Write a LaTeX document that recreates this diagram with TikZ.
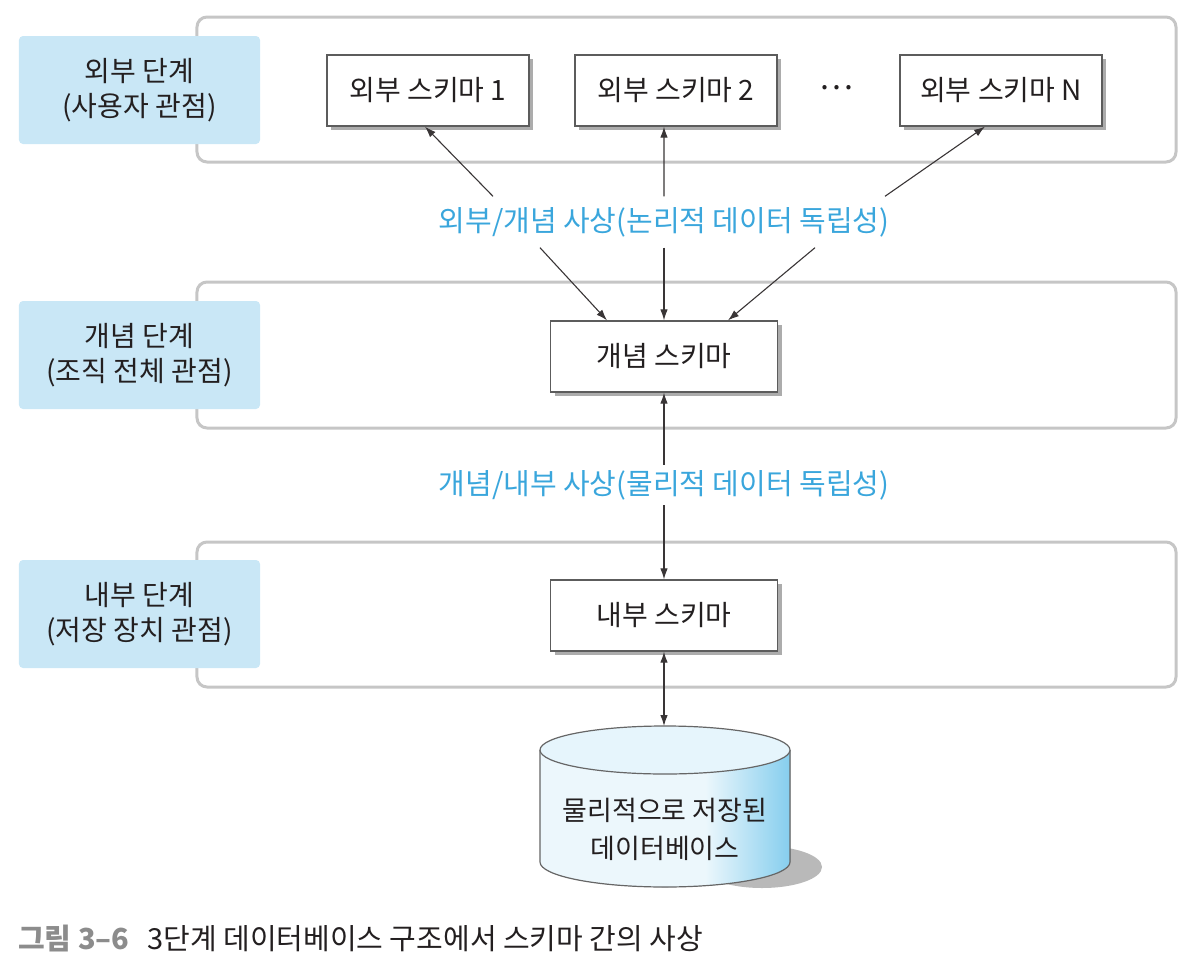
\documentclass[tikz,border=0pt]{standalone}
\usepackage{fontspec}
\setmainfont{Noto Sans CJK KR}
\usetikzlibrary{shapes,arrows.meta,shadows}
\definecolor{levelblue}{HTML}{C9E7F6}
\definecolor{mapblue}{HTML}{3AA6DC}
\definecolor{framegray}{HTML}{C6C6C6}
\definecolor{boxgray}{HTML}{5C5C5C}
\definecolor{inkdark}{HTML}{231F20}
\definecolor{capgray}{HTML}{8C8C8C}
\definecolor{dbpale}{HTML}{ECF7FC}
\definecolor{dbdeep}{HTML}{86CEEE}
\definecolor{dblid}{HTML}{E6F5FC}
\pgfdeclarehorizontalshading{dbside}{100bp}{color(0bp)=(dbpale); color(25bp)=(dbpale); color(58bp)=(dbpale); color(75bp)=(dbdeep); color(100bp)=(dbdeep)}
\tikzstyle{frame} = [draw=framegray, line width=3bp, rounded corners=10bp, inner sep=0pt]
\tikzstyle{level} = [fill=levelblue, rounded corners=4bp, minimum width=241bp, minimum height=108bp, align=center, inner sep=0pt, text=inkdark, font=\fontsize{28bp}{35bp}\selectfont]
\tikzstyle{schema} = [draw=boxgray, line width=1.3bp, fill=white, minimum height=71bp, inner sep=0pt, text=inkdark, font=\fontsize{28bp}{32bp}\selectfont, drop shadow={shadow xshift=4bp, shadow yshift=-4bp, fill=gray!65, opacity=1}]
\tikzstyle{maplabel} = [text=mapblue, inner sep=0pt, font=\fontsize{29bp}{32bp}\selectfont]
\tikzstyle{dbline} = [draw=gray!80!black, line width=1.2bp]
\tikzstyle{link} = [draw=inkdark!90, line width=1.1bp]

\begin{document}
\begin{tikzpicture}[x=1bp, y=-1bp, >={Latex[length=11bp,width=7.5bp]}]
    \useasboundingbox (0,0) rectangle (1202,963);
    % frames
    \node [frame, minimum width=979bp, minimum height=145bp, name=extframe] at (686.5,89.5) {};
    \node [frame, minimum width=979bp, minimum height=146bp, name=conframe] at (686.5,355) {};
    \node [frame, minimum width=979bp, minimum height=145bp, name=intframe] at (686.5,614.5) {};
    % levels
    \node [level, name=extlevel] at (139.5,90) {외부 단계\\(사용자 관점)};
    \node [level, name=conlevel] at (139.5,355) {개념 단계\\(조직 전체 관점)};
    \node [level, name=intlevel] at (139.5,614) {내부 단계\\(저장 장치 관점)};
    % schemas
    \node [schema, minimum width=202bp, name=ext1] at (428,90.5) {외부 스키마 1};
    \node [schema, minimum width=202bp, name=ext2] at (676,90.5) {외부 스키마 2};
    \node [text=inkdark, font=\fontsize{32bp}{36bp}\selectfont, name=extdots] at (836,88) {⋯};
    \node [schema, minimum width=202bp, name=extN] at (1001,90.5) {외부 스키마 N};
    \node [schema, minimum width=227bp, name=con] at (664,356.5) {개념 스키마};
    \node [schema, minimum width=227bp, name=int] at (664,615.5) {내부 스키마};
    % mappings
    \node [maplabel, minimum height=51bp, name=map1] at (664,222) {외부/개념 사상(논리적 데이터 독립성)};
    \node [maplabel, minimum height=40bp, name=map2] at (664,485) {개념/내부 사상(물리적 데이터 독립성)};
    % database
    \fill [gray!55] (762,867) ellipse [x radius=60bp, y radius=21bp];
    \fill [shading=dbside] (540,750) -- (540,862) arc [start angle=180, end angle=360, x radius=125bp, y radius=25bp] -- (790,750) -- cycle;
    \draw [dbline] (540,750) -- (540,862) arc [start angle=180, end angle=360, x radius=125bp, y radius=25bp] -- (790,750);
    \draw [dbline, fill=dblid] (665,750) ellipse [x radius=125bp, y radius=24bp];
    \coordinate (dbtop) at (664,726);
    \node [text=inkdark, align=center, font=\fontsize{27bp}{38bp}\selectfont, name=db] at (665,829) {물리적으로 저장된\\데이터베이스};
    % caption
    \node [anchor=west, inner sep=0pt, font=\fontsize{29bp}{32bp}\selectfont, name=caption] at (18,938) {\textcolor{capgray}{\bfseries 그림 3–6}\hspace{18bp}\textcolor{inkdark}{3단계 데이터베이스 구조에서 스키마 간의 사상}};
    % edges
    \draw [link, ->] ([xshift=-171bp]map1.north) -- ([xshift=-3bp]ext1.south);
    \draw [link, ->] (map1.north) -- ([xshift=-12bp]ext2.south);
    \draw [link, ->] ([xshift=221bp]map1.north) -- ([xshift=-16bp]extN.south);
    \draw [link, ->] ([xshift=-124bp]map1.south) -- ([xshift=-57bp]con.north);
    \draw [link, ->] (map1.south) -- (con.north);
    \draw [link, ->] ([xshift=151bp]map1.south) -- ([xshift=64bp]con.north);
    \draw [link, ->] (map2) -- (con);
    \draw [link, ->] (map2) -- (int);
    \draw [link, <->] (int) -- (dbtop);
\end{tikzpicture}
\end{document}
